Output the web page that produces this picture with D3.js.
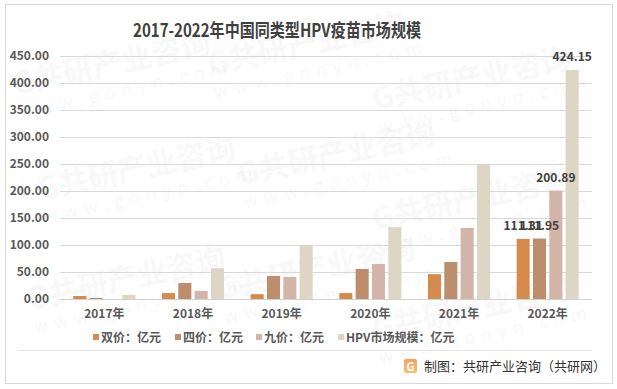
<!DOCTYPE html>
<html>
<head>
<meta charset="utf-8">
<script src="https://cdn.jsdelivr.net/npm/d3@7"></script>
<style>
	body { margin: 0; background: #fff; }
	svg { display: block; font-family: "Noto Sans CJK SC", "Noto Sans", sans-serif; }
</style>
</head>
<body>
<svg id="chart" width="617" height="389"></svg>
<script>

var years = ['2017年', '2018年', '2019年', '2020年', '2021年', '2022年'];
var seriesNames = ['双价：亿元', '四价：亿元', '九价：亿元', 'HPV市场规模：亿元'];
var bivalent = [5.6, 11, 9, 11, 46, 111.31];
var quadrivalent = [2, 29.6, 42.6, 55.6, 68.5, 111.95];
var ninevalent = [0, 15, 40.7, 64.8, 131.5, 200.89];
var marketSize = [7.5, 57, 99, 133, 250, 424.15];
var yTicks = [0, 50, 100, 150, 200, 250, 300, 350, 400, 450];
var colors = ['#d58b4d', '#bd8e6d', '#d3b4a8', '#ddd6c4'];

var series = [bivalent, quadrivalent, ninevalent, marketSize];

var svg = d3.select('#chart');
var defs = svg.append('defs');

/**
 * Frame and watermarks
 */
svg.append('rect')
	.attr('x', 5.5).attr('y', 4.5)
	.attr('width', 607).attr('height', 379)
	.attr('fill', '#fff')
	.attr('stroke', '#d9d9d9');

var marks = [[15, 95], [210, 75], [375, 110], [40, 200], [240, 185], [375, 230], [30, 310], [220, 300], [375, 340]];
var wm = svg.append('g');
marks.forEach(function(m) {
	var g = wm.append('g')
		.attr('transform', 'translate(' + m[0] + ',' + m[1] + ') rotate(-12)')
		.attr('fill', '#000')
		.attr('opacity', 0.025);
	g.append('text').attr('font-size', 30).attr('font-weight', 'bold').text('G共研产业咨询');
	g.append('text').attr('y', 24).attr('font-size', 18).attr('letter-spacing', 6).text('www.gonyn.com');
});

/**
 * Title
 */
svg.append('text')
	.attr('x', 277).attr('y', 37)
	.attr('text-anchor', 'middle')
	.attr('font-size', 18).attr('font-weight', 'bold')
	.attr('fill', '#404040')
	.attr('textLength', 288)
	.attr('lengthAdjust', 'spacingAndGlyphs')
	.text('2017-2022年中国同类型HPV疫苗市场规模');

/**
 * Scales
 */
var y = d3.scaleLinear().domain([0, 450]).range([299, 56]);
var x0 = d3.scaleBand().domain(years).range([60, 592]).paddingInner(0.3).paddingOuter(0.15);
var x1 = d3.scaleBand().domain(d3.range(series.length)).range([0, x0.bandwidth()]).paddingInner(0.2);

// grid lines
svg.append('g').selectAll('line')
	.data(yTicks)
	.join('line')
	.attr('x1', 60).attr('x2', 592)
	.attr('y1', function(d) { return Math.round(y(d)) + 0.5; })
	.attr('y2', function(d) { return Math.round(y(d)) + 0.5; })
	.attr('stroke', '#d9d9d9')
	.attr('stroke-width', 1);

// y axis labels
var yAxis = svg.append('g')
	.attr('transform', 'translate(60,0)')
	.call(d3.axisLeft(y).tickValues(yTicks).tickSize(0).tickPadding(11).tickFormat(d3.format('.2f')));
yAxis.select('.domain').remove();
yAxis.selectAll('text')
	.attr('font-size', 12).attr('font-weight', 'bold')
	.attr('fill', '#595959')
	.attr('font-family', '"Noto Sans CJK SC", sans-serif');

/**
 * Bars
 */
var groups = svg.append('g').selectAll('g')
	.data(years)
	.join('g')
	.attr('transform', function(d) { return 'translate(' + x0(d) + ',0)'; });

groups.selectAll('rect')
	.data(function(d, i) { return series.map(function(s, k) { return {k: k, v: s[i]}; }); })
	.join('rect')
	.attr('x', function(d) { return x1(d.k); })
	.attr('y', function(d) { return y(d.v); })
	.attr('width', x1.bandwidth())
	.attr('height', function(d) { return y(0) - y(d.v); })
	.attr('fill', function(d) { return colors[d.k]; });

// data labels only on the last year
var last = years.length - 1;
svg.append('g').selectAll('text')
	.data(series.map(function(s, k) { return {k: k, v: s[last]}; }))
	.join('text')
	.attr('x', function(d) { return x0(years[last]) + x1(d.k) + x1.bandwidth() / 2; })
	.attr('y', function(d) { return y(d.v) - 9; })
	.attr('text-anchor', 'middle')
	.attr('font-size', 12).attr('font-weight', 'bold')
	.attr('fill', '#404040')
	.text(function(d) { return d3.format('.2f')(d.v); });

// baseline
svg.append('line')
	.attr('x1', 60).attr('x2', 592)
	.attr('y1', 299.5).attr('y2', 299.5)
	.attr('stroke', '#d0d0d0');

// x axis labels
var xAxis = svg.append('g')
	.attr('transform', 'translate(0,299)')
	.call(d3.axisBottom(x0).tickSize(0).tickPadding(10));
xAxis.select('.domain').remove();
xAxis.selectAll('text')
	.attr('font-size', 12).attr('font-weight', 'bold')
	.attr('fill', '#595959')
	.attr('font-family', '"Noto Sans CJK SC", sans-serif');

/**
 * Legend
 */
var legendX = [93, 175, 256, 338];
var legend = svg.append('g').selectAll('g')
	.data(seriesNames)
	.join('g')
	.attr('transform', function(d, i) { return 'translate(' + legendX[i] + ',337)'; });
legend.append('rect')
	.attr('x', 0).attr('y', -3)
	.attr('width', 6).attr('height', 6)
	.attr('fill', function(d, i) { return colors[i]; });
legend.append('text')
	.attr('x', 8).attr('y', 4.5)
	.attr('font-size', 12).attr('font-weight', 'bold')
	.attr('fill', '#595959')
	.text(function(d) { return d; });

/**
 * Footer
 */
svg.append('line')
	.attr('x1', 18).attr('x2', 592)
	.attr('y1', 350.5).attr('y2', 350.5)
	.attr('stroke', '#e6e6e6');

var grad = defs.append('linearGradient')
	.attr('id', 'logoGrad').attr('x1', 0).attr('y1', 0).attr('x2', 0).attr('y2', 1);
grad.append('stop').attr('offset', 0).attr('stop-color', '#f9a05a');
grad.append('stop').attr('offset', 1).attr('stop-color', '#f1c27a');

svg.append('rect')
	.attr('x', 404).attr('y', 359)
	.attr('width', 13).attr('height', 14).attr('rx', 2)
	.attr('fill', 'url(#logoGrad)');
svg.append('text')
	.attr('x', 410.5).attr('y', 370.5)
	.attr('text-anchor', 'middle')
	.attr('font-size', 11).attr('font-weight', 'bold')
	.attr('fill', '#fff')
	.text('G');

svg.append('text')
	.attr('x', 424).attr('y', 371)
	.attr('font-size', 13)
	.attr('fill', '#333')
	.text('制图：共研产业咨询（共研网）');

</script>
</body>
</html>
